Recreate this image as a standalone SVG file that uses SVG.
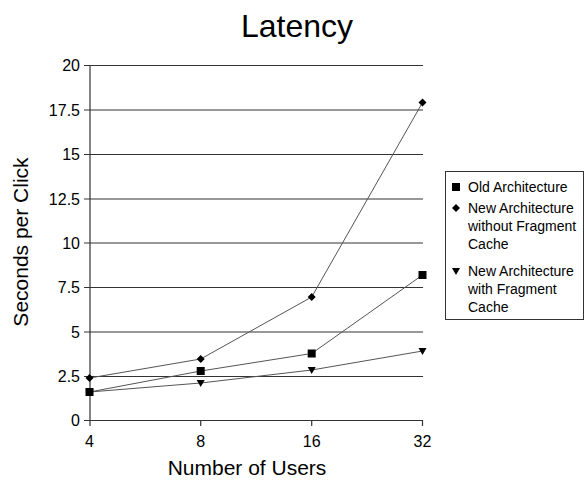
<svg xmlns="http://www.w3.org/2000/svg" width="585" height="482" viewBox="0 0 585 482">
<style>
text{font-family:"Liberation Sans",Arial,sans-serif;fill:#000}
.grid{stroke:#333;stroke-width:1.2;fill:none}
.axis{stroke:#333;stroke-width:1.2;fill:none}
.series{stroke:#555;stroke-width:1;fill:none}
.ylab{font-size:16px;text-anchor:end}
.xlab{font-size:16px;text-anchor:middle}
.leg{font-size:14px}
</style>
<defs>
<rect id="sq" x="-4" y="-4" width="8" height="8" fill="#000"/>
<polygon id="dm" points="0,-4 4,0 0,4 -4,0" fill="#000"/>
<polygon id="tr" points="-4,-3 4,-3 0,4" fill="#000"/>
</defs>
<rect width="585" height="482" fill="#fff"/>
<text x="297" y="37" font-size="32" text-anchor="middle">Latency</text>
<g id="gridlines">
<line class="grid" x1="84" y1="65.5" x2="423" y2="65.5"/>
<line class="grid" x1="84" y1="110" x2="423" y2="110"/>
<line class="grid" x1="84" y1="154.5" x2="423" y2="154.5"/>
<line class="grid" x1="84" y1="199" x2="423" y2="199"/>
<line class="grid" x1="84" y1="243" x2="423" y2="243"/>
<line class="grid" x1="84" y1="287.5" x2="423" y2="287.5"/>
<line class="grid" x1="84" y1="332" x2="423" y2="332"/>
<line class="grid" x1="84" y1="376.5" x2="423" y2="376.5"/>
<line class="axis" x1="84" y1="420.5" x2="423" y2="420.5"/>
</g>
<g id="axes">
<line class="axis" x1="90" y1="65" x2="90" y2="426"/>
<line class="axis" x1="200.7" y1="420" x2="200.7" y2="426"/>
<line class="axis" x1="311.7" y1="420" x2="311.7" y2="426"/>
<line class="axis" x1="422.5" y1="420" x2="422.5" y2="426"/>
</g>
<g id="ylabels">
<text class="ylab" x="80" y="71">20</text>
<text class="ylab" x="80" y="116">17.5</text>
<text class="ylab" x="80" y="160">15</text>
<text class="ylab" x="80" y="205">12.5</text>
<text class="ylab" x="80" y="249">10</text>
<text class="ylab" x="80" y="293">7.5</text>
<text class="ylab" x="80" y="338">5</text>
<text class="ylab" x="80" y="382">2.5</text>
<text class="ylab" x="80" y="426">0</text>
</g>
<g id="xlabels">
<text class="xlab" x="89.5" y="447">4</text>
<text class="xlab" x="200.7" y="447">8</text>
<text class="xlab" x="311.7" y="447">16</text>
<text class="xlab" x="422.5" y="447">32</text>
</g>
<text x="247" y="475" font-size="21" text-anchor="middle">Number of Users</text>
<text transform="translate(28,242) rotate(-90)" font-size="21" text-anchor="middle">Seconds per Click</text>
<g id="connectors">
<polyline class="series" points="89.5,392 200.7,371 311.7,353.5 422.5,275"/>
<polyline class="series" points="89.5,378 200.7,359 311.7,297 422.5,102.5"/>
<polyline class="series" points="89.5,392 200.7,383 311.7,370 422.5,351"/>
</g>
<g id="series-old">
<use href="#sq" x="89.5" y="392"/><use href="#sq" x="200.7" y="371"/><use href="#sq" x="311.7" y="353.5"/><use href="#sq" x="422.5" y="275"/>
</g>
<g id="series-nocache">
<use href="#dm" x="89.5" y="378"/><use href="#dm" x="200.7" y="359"/><use href="#dm" x="311.7" y="297"/><use href="#dm" x="422.5" y="102.5"/>
</g>
<g id="series-cache">
<use href="#tr" x="89.5" y="392"/><use href="#tr" x="200.7" y="383"/><use href="#tr" x="311.7" y="370"/><use href="#tr" x="422.5" y="351"/>
</g>
<g id="legend">
<rect x="445.5" y="171.5" width="138" height="148" fill="#fff" stroke="#333" stroke-width="1"/>
<use href="#sq" x="456" y="187"/>
<text class="leg" x="468" y="192">Old Architecture</text>
<use href="#dm" x="456" y="208"/>
<text class="leg" x="468" y="213">New Architecture</text>
<text class="leg" x="468" y="231">without Fragment</text>
<text class="leg" x="468" y="249">Cache</text>
<use href="#tr" x="456" y="271"/>
<text class="leg" x="468" y="276">New Architecture</text>
<text class="leg" x="468" y="294">with Fragment</text>
<text class="leg" x="468" y="312">Cache</text>
</g>
</svg>
